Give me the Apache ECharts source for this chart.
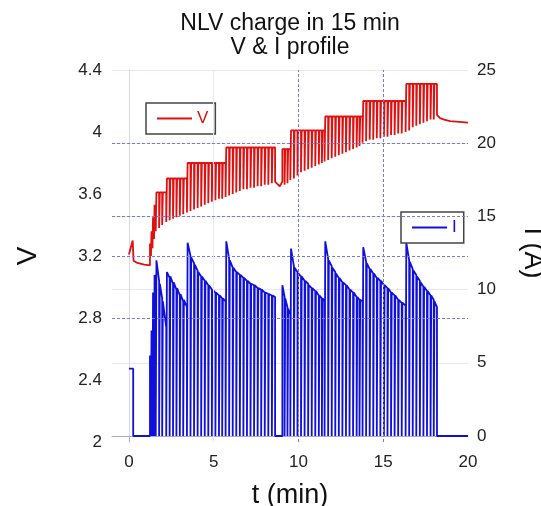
<!DOCTYPE html>
<html><head><meta charset="utf-8">
<script src="https://cdn.jsdelivr.net/npm/echarts@6/dist/echarts.min.js"></script>
<style>html,body{margin:0;padding:0;background:#fff}#c{width:541px;height:506px}</style>
</head><body><div id="c"></div>
<script>
// ---- data (t in min, V in volts, I in amps) ----
const xTickLabels = [0, 5, 10, 15, 20];
const preVolt = [[0, 3.21], [0.22, 3.30], [0.27, 3.17], [0.5, 3.155], [0.9, 3.145], [1.24, 3.14]];
const preCurr = [[0, 4.6], [0.25, 4.6], [0.25, 0], [1.24, 0]];
const pauseVolt = [[8.75, 3.665], [8.9, 3.65], [9.0, 3.655]];
const tailVolt = [[18.35, 4.09], [18.6, 4.08], [18.94, 4.07], [19.5, 4.065], [20, 4.06]];
const tailCurr = [[20, 0]];

const pulseOn = [1.24, 1.33, 1.42, 1.51,
  1.62, 1.82, 2.00,
  2.24, 2.44, 2.64, 2.84, 3.04, 3.24,
  3.46, 3.67, 3.88, 4.09, 4.30, 4.51, 4.72, 4.93, 5.14, 5.35, 5.54,
  5.74, 5.95, 6.16, 6.37, 6.58, 6.79, 7.00, 7.21, 7.42, 7.63, 7.84, 8.05, 8.26, 8.47,
  9.05, 9.22, 9.39,
  9.56, 9.77, 9.98, 10.19, 10.40, 10.61, 10.82, 11.03, 11.24, 11.42,
  11.58, 11.79, 12.00, 12.21, 12.42, 12.63, 12.84, 13.05, 13.26, 13.47, 13.64,
  13.82, 14.03, 14.24, 14.45, 14.66, 14.87, 15.08, 15.29, 15.50, 15.71, 15.92, 16.13,
  16.36, 16.57, 16.78, 16.99, 17.20, 17.41, 17.62, 17.83, 18.02];
const pulseOff = [1.30, 1.39, 1.48, 1.58,
  1.78, 1.96, 2.20,
  2.40, 2.60, 2.80, 3.00, 3.20, 3.42,
  3.63, 3.84, 4.05, 4.26, 4.47, 4.68, 4.89, 5.10, 5.31, 5.50, 5.70,
  5.91, 6.12, 6.33, 6.54, 6.75, 6.96, 7.17, 7.38, 7.59, 7.80, 8.01, 8.22, 8.43, 8.62,
  9.18, 9.35, 9.52,
  9.73, 9.94, 10.15, 10.36, 10.57, 10.78, 10.99, 11.20, 11.38, 11.54,
  11.75, 11.96, 12.17, 12.38, 12.59, 12.80, 13.01, 13.22, 13.43, 13.60, 13.78,
  13.99, 14.20, 14.41, 14.62, 14.83, 15.04, 15.25, 15.46, 15.67, 15.88, 16.09, 16.32,
  16.53, 16.74, 16.95, 17.16, 17.37, 17.58, 17.79, 17.98, 18.17];
const currOn = [5.5, 7.2, 9.8, 11.0,
  12.0, 10.4, 9.2,
  11.2, 10.9, 10.5, 10.1, 9.7, 9.3,
  13.2, 12.2, 11.7, 11.2, 10.9, 10.6, 10.3, 10.0, 9.8, 9.6, 9.4,
  13.3, 12.0, 11.5, 11.2, 11.0, 10.8, 10.6, 10.4, 10.3, 10.1, 10.0, 9.8, 9.7, 9.6,
  10.3, 9.4, 8.7,
  12.8, 11.5, 11.1, 10.9, 10.6, 10.3, 10.1, 9.9, 9.6, 9.4,
  13.3, 12.0, 11.5, 11.1, 10.8, 10.5, 10.3, 10.0, 9.8, 9.5, 9.3,
  12.9, 11.8, 11.4, 11.1, 10.8, 10.6, 10.3, 10.1, 9.8, 9.6, 9.3, 9.1,
  13.2, 11.9, 11.3, 10.9, 10.5, 10.2, 9.9, 9.6, 9.2];
const currOff = [5.2, 6.8, 9.2, 10.4,
  10.6, 9.4, 7.4,
  10.8, 10.4, 10.0, 9.6, 9.2, 8.8,
  12.3, 11.8, 11.3, 10.9, 10.6, 10.3, 10.0, 9.8, 9.6, 9.4, 9.2,
  12.1, 11.5, 11.2, 11.0, 10.8, 10.6, 10.4, 10.3, 10.1, 10.0, 9.8, 9.7, 9.6, 9.5,
  9.5, 8.8, 8.3,
  11.6, 11.2, 10.9, 10.6, 10.4, 10.1, 9.9, 9.6, 9.4, 9.2,
  12.1, 11.6, 11.2, 10.8, 10.5, 10.3, 10.0, 9.8, 9.5, 9.3, 9.2,
  11.9, 11.4, 11.1, 10.8, 10.6, 10.3, 10.1, 9.8, 9.6, 9.3, 9.1, 8.9,
  12.0, 11.4, 11.0, 10.6, 10.2, 9.9, 9.6, 9.3, 8.8];
const voltTop = [3.28, 3.36, 3.45, 3.53,
  3.61, 3.61, 3.61,
  3.70, 3.70, 3.70, 3.70, 3.70, 3.70,
  3.80, 3.80, 3.80, 3.80, 3.80, 3.80, 3.80, 3.80, 3.80, 3.80, 3.80,
  3.90, 3.90, 3.90, 3.90, 3.90, 3.90, 3.90, 3.90, 3.90, 3.90, 3.90, 3.90, 3.90, 3.90,
  3.89, 3.89, 3.89,
  4.01, 4.01, 4.01, 4.01, 4.01, 4.01, 4.01, 4.01, 4.01, 4.01,
  4.10, 4.10, 4.10, 4.10, 4.10, 4.10, 4.10, 4.10, 4.10, 4.10, 4.10,
  4.20, 4.20, 4.20, 4.20, 4.20, 4.20, 4.20, 4.20, 4.20, 4.20, 4.20, 4.20,
  4.31, 4.31, 4.31, 4.31, 4.31, 4.31, 4.31, 4.31, 4.31];
const voltRest = [3.20, 3.25, 3.31, 3.36,
  3.38, 3.40, 3.42,
  3.43, 3.44, 3.45, 3.46, 3.47, 3.48,
  3.49, 3.50, 3.51, 3.52, 3.53, 3.54, 3.55, 3.56, 3.57, 3.57, 3.58,
  3.59, 3.60, 3.61, 3.62, 3.63, 3.63, 3.64, 3.64, 3.65, 3.65, 3.66, 3.66, 3.67, 3.68,
  3.66, 3.67, 3.69,
  3.70, 3.72, 3.74, 3.75, 3.76, 3.77, 3.78, 3.79, 3.80, 3.81,
  3.82, 3.83, 3.84, 3.85, 3.86, 3.87, 3.88, 3.89, 3.90, 3.91, 3.93,
  3.94, 3.95, 3.95, 3.96, 3.96, 3.97, 3.97, 3.98, 3.98, 3.99, 3.99, 4.00,
  4.01, 4.03, 4.04, 4.05, 4.06, 4.07, 4.08, 4.08, 4.11];

// ---- build polylines (pulse on / rest) ----
function byTime(a, b) { return a[0] - b[0]; }
function buildVolt() {
  const pts = preVolt.map(p => p.slice());
  const n = pulseOn.length;
  for (let k = 0; k < n; k++) {
    pts.push([pulseOn[k], voltTop[k]], [pulseOff[k], voltTop[k]], [pulseOff[k], voltRest[k]]);
    if (k < n - 1) pts.push([pulseOn[k + 1], voltRest[k]]);
  }
  return pts.concat(pauseVolt, tailVolt).sort(byTime);
}
function buildCurr() {
  const pts = preCurr.map(p => p.slice());
  const n = pulseOn.length;
  for (let k = 0; k < n; k++) {
    pts.push([pulseOn[k], currOn[k]], [pulseOff[k], currOff[k]], [pulseOff[k], 0]);
    if (k < n - 1) pts.push([pulseOn[k + 1], 0]);
  }
  return pts.concat(tailCurr);
}

const FONT = '"Liberation Sans", Arial, sans-serif';
const RED = '#e01010', BLUE = '#1010dd';
const frame = '#a8a8dc';
const dash = { type: [3, 2], color: '#7a7ad0', width: 1 };
const faint = { type: 'solid', color: '#e6e6f4', width: 1 };

const legendBase = {
  padding: [7, 7, 7, 11], itemWidth: 35, itemHeight: 2, icon: 'rect',
  backgroundColor: '#fff', borderColor: '#444', borderWidth: 1.5, borderRadius: 0,
  textStyle: { fontFamily: FONT, fontSize: 17 }
};

const chart = echarts.init(document.getElementById('c'));
chart.setOption({
  animation: false,
  backgroundColor: '#fff',
  textStyle: { fontFamily: FONT },
  title: {
    text: 'NLV charge in 15 min\nV & I profile',
    left: 290, top: 12, textAlign: 'center', padding: 0,
    textStyle: { fontFamily: FONT, fontSize: 23, fontWeight: 'normal', color: '#111', lineHeight: 24 }
  },
  legend: [
    Object.assign({ data: [{ name: 'V', textStyle: { color: RED } }], left: 146, top: 103 }, legendBase),
    Object.assign({ data: [{ name: 'I', textStyle: { color: BLUE } }], left: 401, top: 212 }, legendBase)
  ],
  grid: [
    { left: 112, right: 73, top: 70, bottom: 64, outerBoundsMode: 'none', containLabel: false },
    { left: 112, right: 73, top: 70, bottom: 70, outerBoundsMode: 'none', containLabel: false }
  ],
  xAxis: [
    { type: 'value', gridIndex: 0, min: -1, max: 20, interval: 1,
      axisLine: { show: false }, axisTick: { show: false }, splitLine: { show: false },
      axisLabel: { fontFamily: FONT, fontSize: 17, color: '#222', margin: 12,
        formatter: v => (xTickLabels.indexOf(v) >= 0 ? String(v) : '') },
      name: 't (min)', nameLocation: 'middle', nameGap: 40,
      nameTextStyle: { fontFamily: FONT, fontSize: 27, color: '#111' } },
    { type: 'value', gridIndex: 1, min: -1, max: 20, position: 'top',
      axisLine: { show: true, lineStyle: { color: frame, width: 1 } },
      axisTick: { show: false }, axisLabel: { show: false }, splitLine: { show: false } }
  ],
  yAxis: [
    { type: 'value', gridIndex: 0, min: 2, max: 4.4, interval: 0.4,
      axisLine: { show: true, lineStyle: { color: frame, width: 1 } },
      axisTick: { show: false }, splitLine: { show: false },
      axisLabel: { fontFamily: FONT, fontSize: 17, color: '#222', margin: 10 },
      name: 'V', nameLocation: 'middle', nameRotate: 90, nameGap: 70,
      nameTextStyle: { fontFamily: FONT, fontSize: 28, color: '#111' } },
    { type: 'value', gridIndex: 1, min: 0, max: 25, interval: 5, position: 'right',
      axisLine: { show: true, lineStyle: { color: '#d8d8ee', width: 1 } },
      axisTick: { show: false },
      splitLine: { show: true, lineStyle: faint },
      axisLabel: { fontFamily: FONT, fontSize: 17, color: '#222', margin: 9 },
      name: 'I (A)', nameLocation: 'middle', nameRotate: -90, nameGap: 51,
      nameTextStyle: { fontFamily: FONT, fontSize: 27, color: '#111' } }
  ],
  series: [
    { name: 'gridV', type: 'line', xAxisIndex: 0, yAxisIndex: 0, data: [], z: 1, silent: true,
      markLine: { silent: true, symbol: 'none', label: { show: false }, lineStyle: dash, animation: false,
        data: [{ yAxis: 3.2 }, { yAxis: 2.8 }, { xAxis: 10 }, { xAxis: 15 },
               { xAxis: 5, lineStyle: faint }] } },
    { name: 'gridI', type: 'line', xAxisIndex: 1, yAxisIndex: 1, data: [], z: 1, silent: true,
      markLine: { silent: true, symbol: 'none', label: { show: false }, lineStyle: dash, animation: false,
        data: [{ yAxis: 20 }, { yAxis: 15 }] } },
    { name: 'V', type: 'line', xAxisIndex: 0, yAxisIndex: 0, data: buildVolt(), z: 3,
      symbol: 'none', showSymbol: false,
      lineStyle: { color: RED, width: 1.8 }, itemStyle: { color: RED } },
    { name: 'I', type: 'line', xAxisIndex: 1, yAxisIndex: 1, data: buildCurr(), z: 3,
      symbol: 'none', showSymbol: false,
      lineStyle: { color: BLUE, width: 1.8 }, itemStyle: { color: BLUE } }
  ]
});
</script>
</body></html>
